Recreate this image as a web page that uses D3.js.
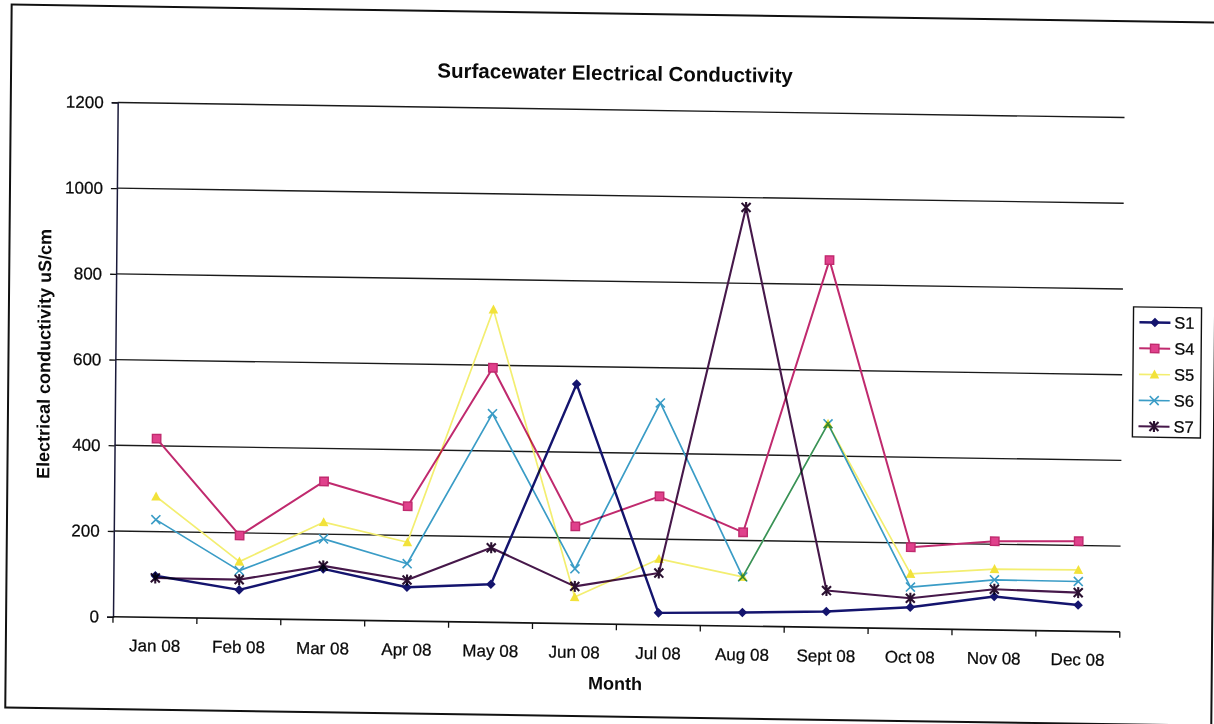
<!DOCTYPE html>
<html>
<head>
<meta charset="utf-8">
<script src="https://cdn.jsdelivr.net/npm/d3@7"></script>
<style>
  html, body { margin: 0; padding: 0; background: #ffffff; }
  svg { display: block; }
  text { font-family: "Liberation Sans", Arial, sans-serif; fill: #0a0a0a; }
</style>
</head>
<body>
<svg id="chart" width="1214" height="724"></svg>
<script>
// Monthly sampling, 2008
const months = ["Jan 08", "Feb 08", "Mar 08", "Apr 08", "May 08", "Jun 08",
                "Jul 08", "Aug 08", "Sept 08", "Oct 08", "Nov 08", "Dec 08"];

// Electrical conductivity (uS/cm) per station
const s1 = [97, 67, 119, 79, 89, 559, 28, 32, 37, 50, 78, 61];
const s4 = [417, 194, 323, 268, 594, 227, 300, 219, 857, 190, 207, 210];
const s5 = [282, 133, 228, 184, 730, 62, 154, 115, 475, 128, 142, 143];
const s6 = [228, 112, 189, 134, 487, 128, 518, 115, 475, 97, 117, 116];
const s7 = [92, 91, 126, 96, 174, 87, 121, 977, 86, 71, 95, 90];

const yTicks = [0, 200, 400, 600, 800, 1000, 1200];

const seriesNames = ["S1", "S4", "S5", "S6", "S7"];
const seriesValues = [s1, s4, s5, s6, s7];

const styles = {
  S1: { stroke: "#14146e", fill: "#14146e", width: 2.4, marker: "diamond" },
  S4: { stroke: "#c02a6e", fill: "#e0418c", width: 2.0, marker: "square" },
  S5: { stroke: "#f3ee70", fill: "#f2e23a", width: 1.7, marker: "triangle" },
  S6: { stroke: "#3a9cc6", fill: "#3a9cc6", width: 1.7, marker: "x" },
  S7: { stroke: "#46184a", fill: "#2a1030", width: 2.1, marker: "star" }
};

const svg = d3.select("#chart");

// The sheet sits slightly askew on the page
const root = svg.append("g")
  .attr("transform", "matrix(1,0.015,-0.0091,1,3.29,-9.1)");

// outer frame
root.append("rect")
  .attr("x", 8.5).attr("y", 13.5)
  .attr("width", 1206).attr("height", 703)
  .attr("fill", "none").attr("stroke", "#111").attr("stroke-width", 2);

const plot = { left: 115.4, right: 1122.2, top: 109.8, bottom: 624.1 };

const x = d3.scaleBand().domain(months).range([plot.left, plot.right]);
const y = d3.scaleLinear().domain([0, 1200]).range([plot.bottom, plot.top]);

// horizontal gridlines
root.append("g").selectAll("line")
  .data(yTicks.filter(d => d > 0))
  .join("line")
  .attr("x1", plot.left).attr("x2", plot.right)
  .attr("y1", d => y(d)).attr("y2", d => y(d))
  .attr("stroke", "#1a1a1a").attr("stroke-width", 1.4);

// y axis
const yAxis = root.append("g")
  .attr("transform", `translate(${plot.left},0)`)
  .call(d3.axisLeft(y).tickValues(yTicks).tickSize(6).tickPadding(8).tickFormat(d3.format("d")));
yAxis.select(".domain").attr("stroke", "#1a1a3a").attr("stroke-width", 1.5);
yAxis.selectAll(".tick line").attr("stroke", "#111").attr("stroke-width", 1.3);
yAxis.selectAll(".tick text")
  .attr("font-family", "Liberation Sans, Arial, sans-serif")
  .attr("font-size", 17).attr("fill", "#0a0a0a")
  .attr("stroke", "#0a0a0a").attr("stroke-width", 0.25);

// x axis line with ticks at category boundaries
const xAxis = root.append("g");
xAxis.append("line")
  .attr("x1", plot.left).attr("x2", plot.right)
  .attr("y1", plot.bottom).attr("y2", plot.bottom)
  .attr("stroke", "#111").attr("stroke-width", 1.7);
const bounds = months.map(m => x(m)).concat([plot.right]);
xAxis.selectAll("line.tk")
  .data(bounds)
  .join("line").attr("class", "tk")
  .attr("x1", d => d).attr("x2", d => d)
  .attr("y1", plot.bottom).attr("y2", plot.bottom + 6)
  .attr("stroke", "#111").attr("stroke-width", 1.3);
xAxis.selectAll("text")
  .data(months)
  .join("text")
  .attr("x", d => x(d) + x.bandwidth() / 2)
  .attr("y", plot.bottom + 28.3)
  .attr("dy", "0.35em")
  .attr("text-anchor", "middle")
  .attr("font-size", 17)
  .attr("stroke", "#0a0a0a").attr("stroke-width", 0.25)
  .text(d => d);

// titles
root.append("text")
  .attr("x", 612.4).attr("y", 72.9).attr("dy", "0.35em")
  .attr("text-anchor", "middle")
  .attr("font-size", 20.5).attr("font-weight", "bold")
  .text("Surfacewater Electrical Conductivity");

root.append("text")
  .attr("x", 618).attr("y", 683.2).attr("dy", "0.35em")
  .attr("text-anchor", "middle")
  .attr("font-size", 18).attr("font-weight", "bold")
  .text("Month");

root.append("text")
  .attr("transform", "translate(44,362.4) rotate(-90)")
  .attr("dy", "0.35em")
  .attr("text-anchor", "middle")
  .attr("font-size", 18).attr("font-weight", "bold")
  .text("Electrical conductivity uS/cm");

// marker shapes
function markerPath(kind) {
  switch (kind) {
    case "diamond": return "M0,-4.8L4.8,0L0,4.8L-4.8,0Z";
    case "square": return "M-4.2,-4.2H4.2V4.2H-4.2Z";
    case "triangle": return "M0,-5L4.8,4H-4.8Z";
    case "x": return "M-4.5,-4.5L4.5,4.5M-4.5,4.5L4.5,-4.5";
    case "star": return "M-4.5,-4.5L4.5,4.5M-4.5,4.5L4.5,-4.5M0,-5.5V5.5";
  }
}

function drawMarker(sel, kind, st) {
  const p = sel.append("path").attr("d", markerPath(kind));
  if (kind === "x" || kind === "star") {
    p.attr("fill", "none").attr("stroke", st.fill).attr("stroke-width", kind === "star" ? 2.1 : 1.6);
  } else if (kind === "square") {
    p.attr("fill", st.fill).attr("stroke", st.stroke).attr("stroke-width", 1.4);
  } else {
    p.attr("fill", st.fill).attr("stroke", "none");
  }
}

const line = d3.line()
  .x((d, i) => x(months[i]) + x.bandwidth() / 2)
  .y(d => y(d));

const seriesLayer = root.append("g").style("isolation", "isolate");

seriesNames.forEach((name, k) => {
  const st = styles[name];
  const vals = seriesValues[k];
  const g = seriesLayer.append("g").style("mix-blend-mode", "multiply");
  g.append("path")
    .datum(vals)
    .attr("d", line)
    .attr("fill", "none")
    .attr("stroke", st.stroke)
    .attr("stroke-width", st.width)
    .attr("stroke-linejoin", "round");
  vals.forEach((v, i) => {
    const m = g.append("g")
      .attr("transform", `translate(${x(months[i]) + x.bandwidth() / 2},${y(v)})`);
    drawMarker(m, st.marker, st);
  });
});

// legend
const lg = root.append("g");
lg.append("rect")
  .attr("x", 1133).attr("y", 299)
  .attr("width", 68).attr("height", 130)
  .attr("fill", "#fff").attr("stroke", "#111").attr("stroke-width", 1.4);
seriesNames.forEach((name, k) => {
  const st = styles[name];
  const cy = 314.3 + k * 26;
  const row = lg.append("g");
  row.append("line")
    .attr("x1", 1139).attr("x2", 1170)
    .attr("y1", cy).attr("y2", cy)
    .attr("stroke", st.stroke).attr("stroke-width", st.width);
  const m = row.append("g").attr("transform", `translate(1154.5,${cy})`);
  drawMarker(m, st.marker, st);
  row.append("text")
    .attr("x", 1174).attr("y", cy).attr("dy", "0.35em")
    .attr("font-size", 16.5)
    .attr("stroke", "#0a0a0a").attr("stroke-width", 0.25)
    .text(name);
});
</script>
</body>
</html>
